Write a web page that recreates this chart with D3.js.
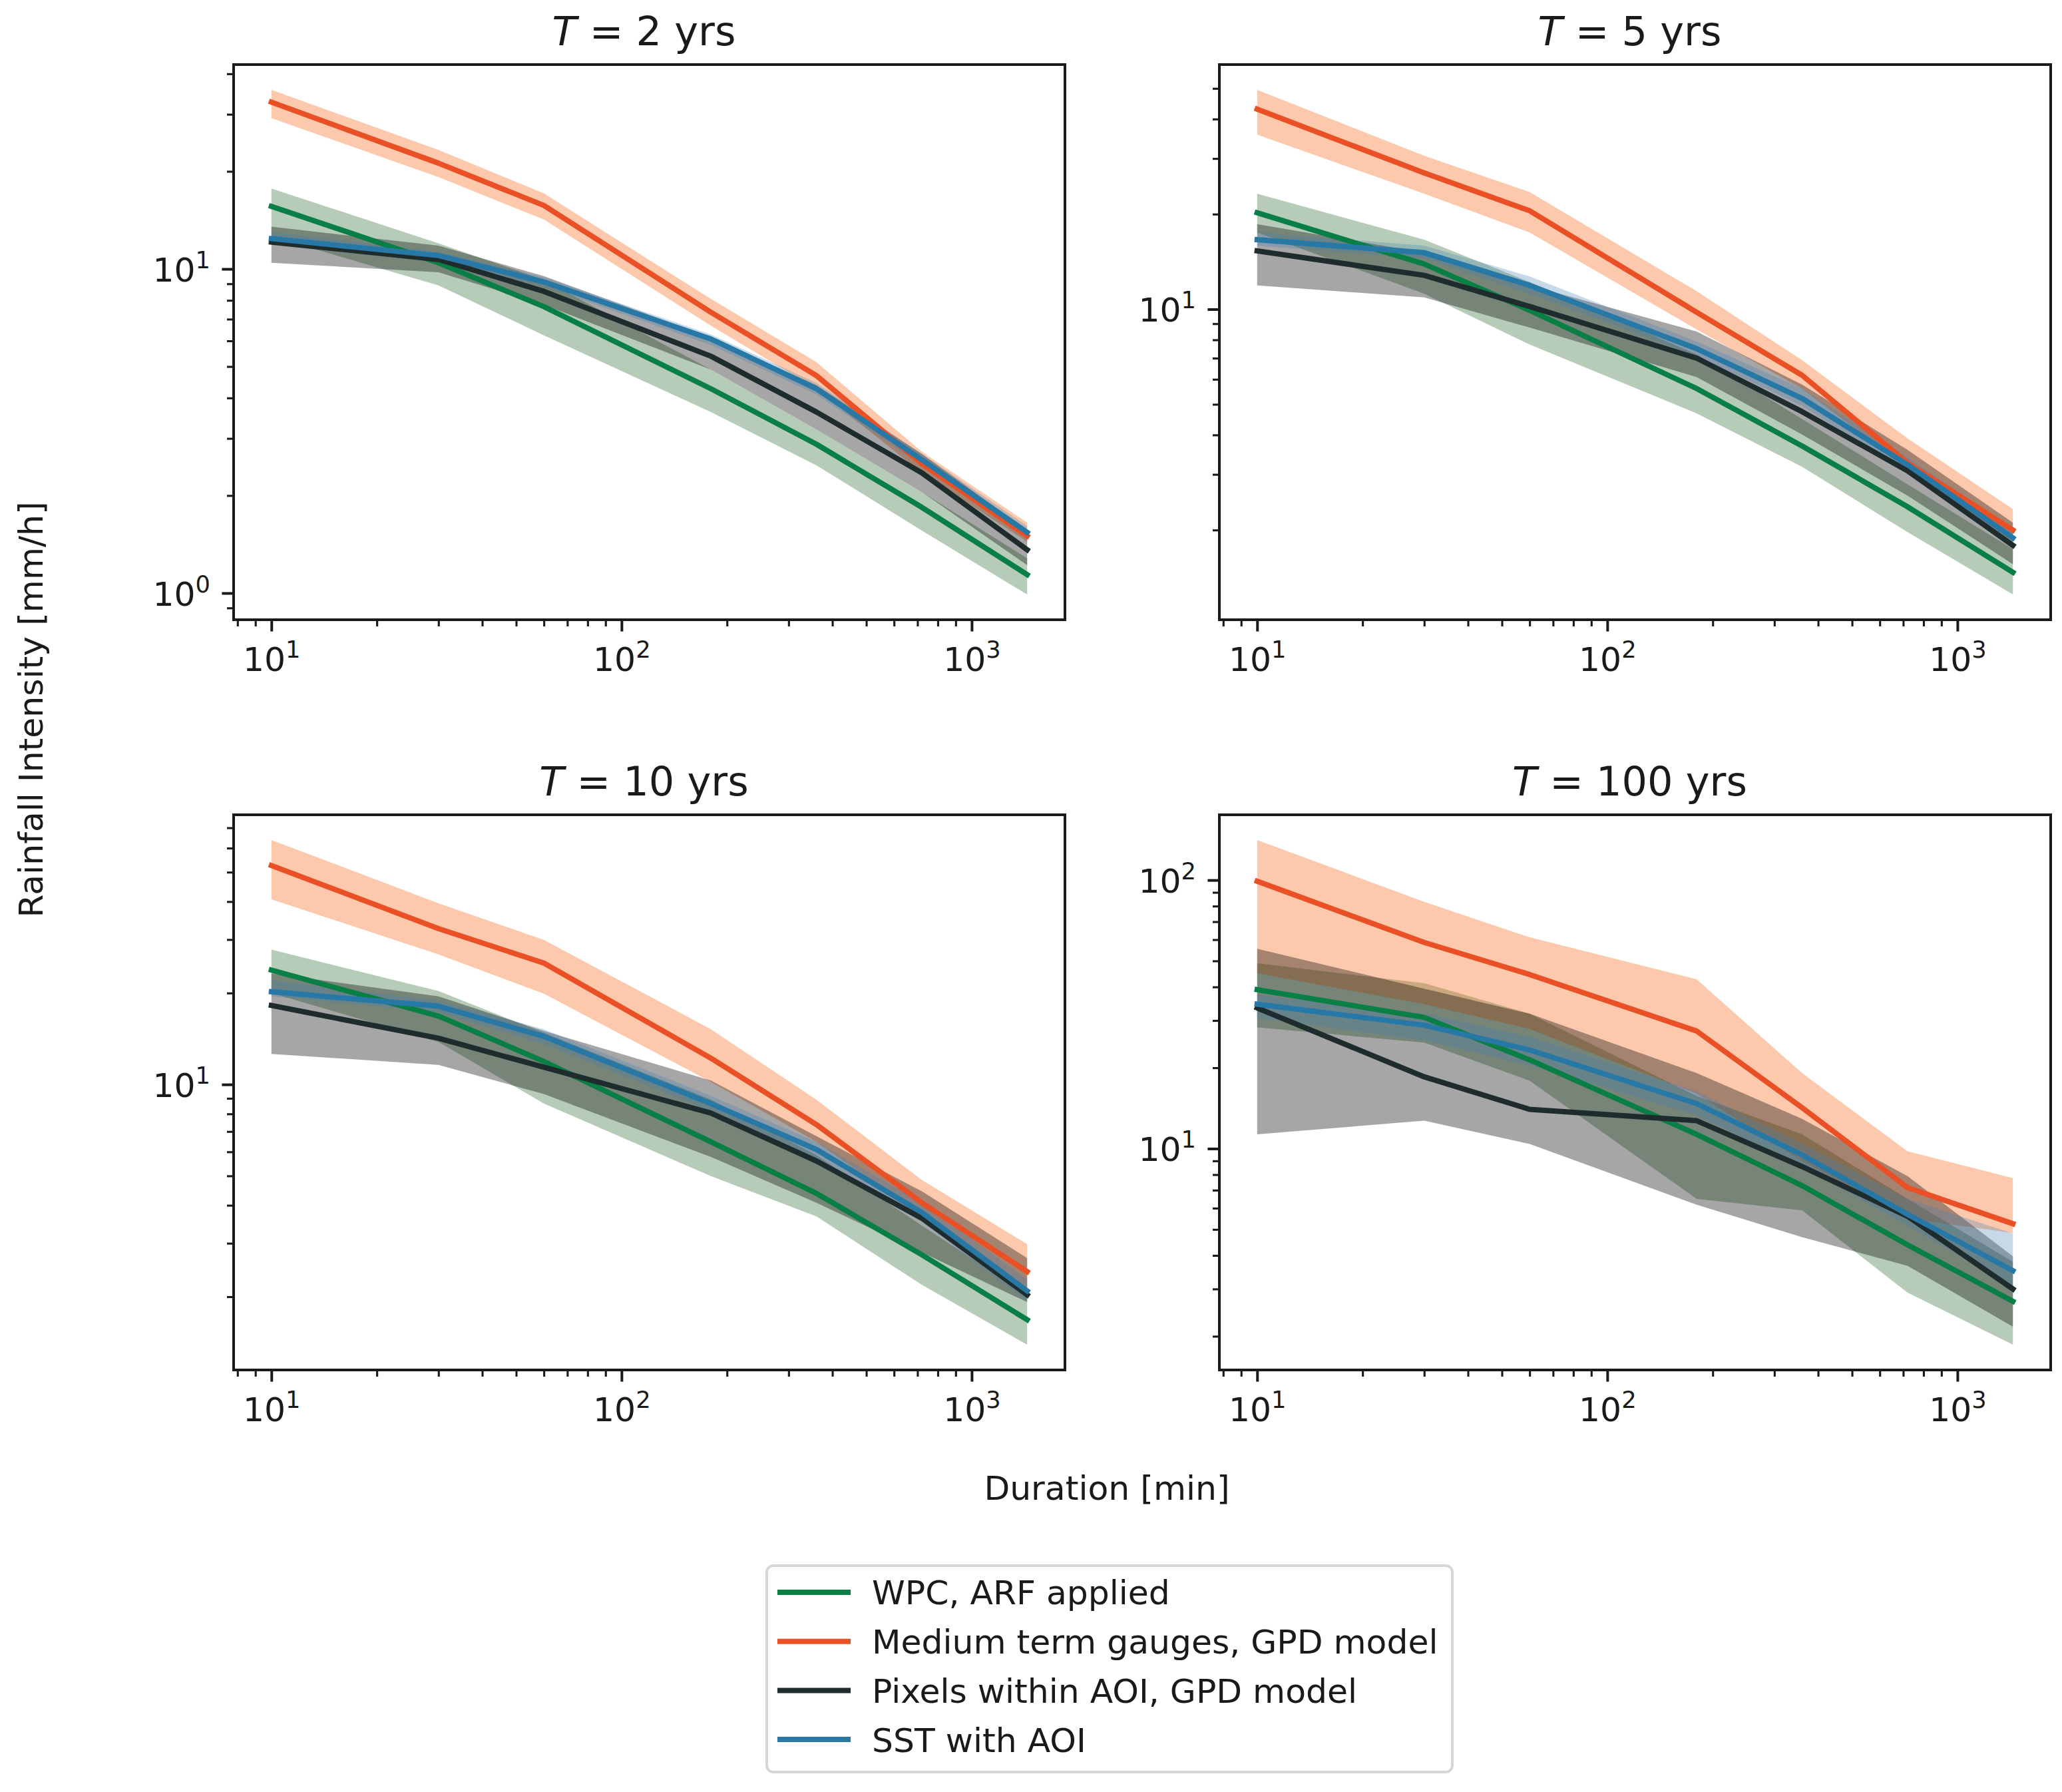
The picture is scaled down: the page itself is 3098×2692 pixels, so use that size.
<!DOCTYPE html>
<html>
<head>
<meta charset="utf-8">
<script src="https://cdn.jsdelivr.net/npm/d3@7"></script>
<style>
body { margin: 0; background: #fff; }
text { font-family: "DejaVu Sans", sans-serif; fill: #1a1a1a; }
</style>
</head>
<body>
<svg id="chart"></svg>
<script>
// durations on the x axis (min)
var durations = [10, 30, 60, 180, 360, 720, 1440];
// one panel per return period
var periods = [2, 5, 10, 100];
var seriesNames = ["WPC, ARF applied", "Medium term gauges, GPD model", "Pixels within AOI, GPD model", "SST with AOI"];

// rainfall intensity [mm/h], one row per panel (T = 2, 5, 10, 100)
var wpcMid = [
  [15.6, 10.45, 7.65, 4.27, 2.88, 1.84, 1.14],
  [20.2, 13.9, 9.92, 5.61, 3.69, 2.37, 1.47],
  [23.8, 16.8, 11.9, 6.47, 4.38, 2.75, 1.68],
  [39.1, 30.8, 21.4, 11.3, 7.28, 4.38, 2.7]
];
var wpcLo = [
  [12.6, 8.9, 6.24, 3.62, 2.48, 1.56, 0.99],
  [17.5, 11.2, 7.73, 4.68, 3.17, 1.97, 1.25],
  [20.0, 13.8, 8.65, 4.99, 3.68, 2.19, 1.39],
  [28.3, 24.8, 17.9, 6.5, 5.89, 2.91, 1.86]
];
var wpcHi = [
  [17.7, 12.0, 9.25, 4.89, 3.2, 2.05, 1.28],
  [23.2, 16.6, 12.2, 7.2, 4.49, 2.79, 1.74],
  [27.8, 20.3, 14.8, 8.91, 5.85, 3.43, 2.03],
  [49.0, 41.3, 31.8, 15.7, 11.3, 6.5, 3.79]
];

var gaugeMid = [
  [32.7, 21.2, 15.7, 7.35, 4.69, 2.51, 1.50],
  [43.0, 27.0, 20.5, 9.78, 6.18, 3.26, 2.0],
  [52.6, 32.6, 25.1, 12.2, 7.38, 4.08, 2.42],
  [99, 58.6, 44.5, 27.4, 14.2, 7.16, 5.25]
];
var gaugeLo = [
  [29.2, 19.2, 14.2, 6.68, 4.27, 2.35, 1.44],
  [35.7, 23.2, 17.5, 8.63, 5.6, 3.13, 1.74],
  [40.7, 26.8, 19.9, 10.2, 6.47, 3.68, 2.03],
  [45, 34.5, 27.9, 16.0, 9.0, 5.5, 4.85]
];
var gaugeHi = [
  [35.7, 23.3, 17.1, 8.08, 5.16, 2.73, 1.65],
  [49.5, 30.6, 23.5, 11.4, 6.9, 3.9, 2.33],
  [63.8, 39.5, 29.9, 15.2, 8.91, 4.85, 2.98],
  [141, 83, 61.2, 42.7, 19.1, 9.77, 7.77]
];

var pixelMid = [
  [12.1, 10.7, 8.53, 5.38, 3.62, 2.35, 1.36],
  [15.3, 12.8, 10.2, 7.0, 4.74, 3.08, 1.79],
  [18.2, 14.2, 11.4, 8.05, 5.6, 3.63, 2.03],
  [33.4, 18.5, 14.0, 12.7, 8.57, 5.6, 3.0]
];
var pixelLo = [
  [10.45, 9.77, 7.76, 4.89, 3.2, 2.05, 1.22],
  [11.9, 10.9, 8.75, 6.1, 4.01, 2.57, 1.56],
  [12.6, 11.6, 9.3, 5.77, 4.08, 2.8, 1.92],
  [11.3, 12.7, 10.4, 6.18, 4.68, 3.66, 2.17]
];
var pixelHi = [
  [13.5, 11.8, 9.5, 6.15, 4.38, 2.69, 1.56],
  [18.6, 15.1, 11.9, 8.5, 5.77, 3.59, 2.11],
  [23.2, 19.5, 15.0, 10.3, 6.76, 4.45, 2.68],
  [55.5, 39.4, 31.8, 19.1, 12.9, 7.9, 3.97]
];

var sstMid = [
  [12.4, 11.0, 9.12, 6.08, 4.27, 2.58, 1.54],
  [16.6, 15.1, 11.9, 7.5, 5.22, 3.22, 1.89],
  [20.2, 18.1, 14.4, 8.65, 6.11, 3.79, 2.09],
  [34.5, 28.8, 23.3, 14.7, 9.47, 5.69, 3.51]
];
var sstLo = [
  [12.0, 10.6, 8.83, 5.83, 4.1, 2.48, 1.48],
  [15.9, 14.5, 11.2, 7.1, 4.94, 3.04, 1.79],
  [19.5, 17.3, 13.6, 8.17, 5.69, 3.53, 1.94],
  [30.7, 25.3, 20.4, 13.3, 8.57, 5.17, 3.05]
];
var sstHi = [
  [13.0, 11.3, 9.42, 6.28, 4.45, 2.69, 1.61],
  [17.5, 15.9, 12.7, 7.9, 5.6, 3.4, 2.0],
  [22.0, 18.9, 15.2, 9.17, 6.47, 4.08, 2.28],
  [37.4, 31.8, 26.1, 16.3, 10.4, 6.5, 4.83]
];

var series = [
  { name: seriesNames[0], mid: wpcMid, lo: wpcLo, hi: wpcHi, line: '#0a7f45', fill: 'rgb(45,110,52)', op: 0.35 },
  { name: seriesNames[1], mid: gaugeMid, lo: gaugeLo, hi: gaugeHi, line: '#ea5026', fill: 'rgb(245,100,20)', op: 0.35 },
  { name: seriesNames[2], mid: pixelMid, lo: pixelLo, hi: pixelHi, line: '#1f2c2e', fill: '#000', op: 0.35 },
  { name: seriesNames[3], mid: sstMid, lo: sstLo, hi: sstHi, line: '#2878a6', fill: 'rgb(70,130,180)', op: 0.3 }
];

var W = 3098, H = 2692;
var svg = d3.select('#chart').attr('width', W).attr('height', H);

// panel placement
var lefts = [351, 1832], tops = [97, 1224];
var pw = 1249, ph = 834;
var ink = '#1a1a1a';
var fs = 50.4;   // label / tick / legend font
var fsTitle = 60.5;

// log padding like matplotlib (5% each side)
function padLog(lo, hi) {
  var a = Math.log10(lo), b = Math.log10(hi), m = (b - a) * 0.05;
  return [Math.pow(10, a - m), Math.pow(10, b + m)];
}

function logTicks(domain) {
  var major = [], minor = [];
  var n0 = Math.floor(Math.log10(domain[0])), n1 = Math.ceil(Math.log10(domain[1]));
  for (var n = n0; n <= n1; n++) {
    for (var k = 1; k <= 9; k++) {
      var v = k * Math.pow(10, n);
      if (v < domain[0] || v > domain[1]) continue;
      if (k == 1) major.push(v); else minor.push(v);
    }
  }
  return { major: major, minor: minor };
}

function powLabel(sel, v) {
  sel.append('tspan').text('10');
  sel.append('tspan').attr('dy', -20).attr('font-size', fs * 0.7).text(Math.round(Math.log10(v)));
}

var xDomain = padLog(d3.min(durations), d3.max(durations));

periods.forEach(function(T, p) {
  var g = svg.append('g')
    .attr('transform', 'translate(' + lefts[p % 2] + ',' + tops[Math.floor(p / 2)] + ')');

  var vals = [];
  series.forEach(function(s) { vals = vals.concat(s.lo[p], s.hi[p], s.mid[p]); });
  var yDomain = padLog(d3.min(vals), d3.max(vals));

  var x = d3.scaleLog().domain(xDomain).range([0, pw]);
  var y = d3.scaleLog().domain(yDomain).range([ph, 0]);

  var area = d3.area()
    .x(function(d, i) { return x(durations[i]); })
    .y0(function(d) { return y(d[0]); })
    .y1(function(d) { return y(d[1]); });
  var line = d3.line()
    .x(function(d, i) { return x(durations[i]); })
    .y(function(d) { return y(d); });

  // bands first, then the lines on top
  series.forEach(function(s) {
    g.append('path')
      .attr('d', area(d3.zip(s.lo[p], s.hi[p])))
      .attr('fill', s.fill)
      .attr('fill-opacity', s.op);
  });
  series.forEach(function(s) {
    g.append('path')
      .attr('d', line(s.mid[p]))
      .attr('fill', 'none')
      .attr('stroke', s.line)
      .attr('stroke-width', 8)
      .attr('stroke-linecap', 'square')
      .attr('stroke-linejoin', 'round');
  });

  // axes
  var xt = logTicks(xDomain), yt = logTicks(yDomain);

  var xMin = g.append('g').attr('transform', 'translate(0,' + ph + ')')
    .call(d3.axisBottom(x).tickValues(xt.minor).tickSize(10).tickFormat(''));
  var xMaj = g.append('g').attr('transform', 'translate(0,' + ph + ')')
    .call(d3.axisBottom(x).tickValues(xt.major).tickSize(17.6).tickFormat(''));
  var yMin = g.append('g')
    .call(d3.axisLeft(y).tickValues(yt.minor).tickSize(10).tickFormat(''));
  var yMaj = g.append('g')
    .call(d3.axisLeft(y).tickValues(yt.major).tickSize(17.6).tickFormat(''));

  [xMin, xMaj, yMin, yMaj].forEach(function(a) {
    a.select('.domain').remove();
    a.selectAll('.tick text').remove();
    a.selectAll('.tick line').attr('stroke', ink);
  });
  xMin.selectAll('.tick line').attr('stroke-width', 3.1);
  yMin.selectAll('.tick line').attr('stroke-width', 3.1);
  xMaj.selectAll('.tick line').attr('stroke-width', 4);
  yMaj.selectAll('.tick line').attr('stroke-width', 4);

  xMaj.selectAll('.tick').append('text')
    .attr('y', 77)
    .attr('text-anchor', 'middle')
    .attr('font-size', fs)
    .each(function(d) { powLabel(d3.select(this), d); });
  yMaj.selectAll('.tick').append('text')
    .attr('x', -35)
    .attr('y', 18.4)
    .attr('text-anchor', 'end')
    .attr('font-size', fs)
    .each(function(d) { powLabel(d3.select(this), d); });

  // frame
  g.append('rect')
    .attr('width', pw).attr('height', ph)
    .attr('fill', 'none')
    .attr('stroke', ink)
    .attr('stroke-width', 4);

  // title
  var t = g.append('text')
    .attr('x', pw / 2 - 8).attr('y', -29)
    .attr('text-anchor', 'middle')
    .attr('font-size', fsTitle);
  t.append('tspan').attr('font-style', 'italic').text('T');
  t.append('tspan').text(' = ' + T + ' yrs');
});

// shared axis labels
svg.append('text')
  .attr('transform', 'translate(64,1066) rotate(-90)')
  .attr('text-anchor', 'middle')
  .attr('font-size', fs)
  .text('Rainfall Intensity [mm/h]');
svg.append('text')
  .attr('x', 1663).attr('y', 2253)
  .attr('text-anchor', 'middle')
  .attr('font-size', fs)
  .text('Duration [min]');

// legend
var lg = svg.append('g').attr('transform', 'translate(1152,2352)');
lg.append('rect')
  .attr('width', 1030).attr('height', 310)
  .attr('rx', 10).attr('ry', 10)
  .attr('fill', '#fff')
  .attr('stroke', '#d6d6d6')
  .attr('stroke-width', 4);
series.forEach(function(s, i) {
  var cy = 40 + i * 73.7;
  lg.append('line')
    .attr('x1', 20).attr('x2', 122)
    .attr('y1', cy).attr('y2', cy)
    .attr('stroke', s.line)
    .attr('stroke-width', 8)
    .attr('stroke-linecap', 'square');
  lg.append('text')
    .attr('x', 158).attr('y', cy + 18.4)
    .attr('font-size', fs)
    .text(s.name);
});
</script>
</body>
</html>
